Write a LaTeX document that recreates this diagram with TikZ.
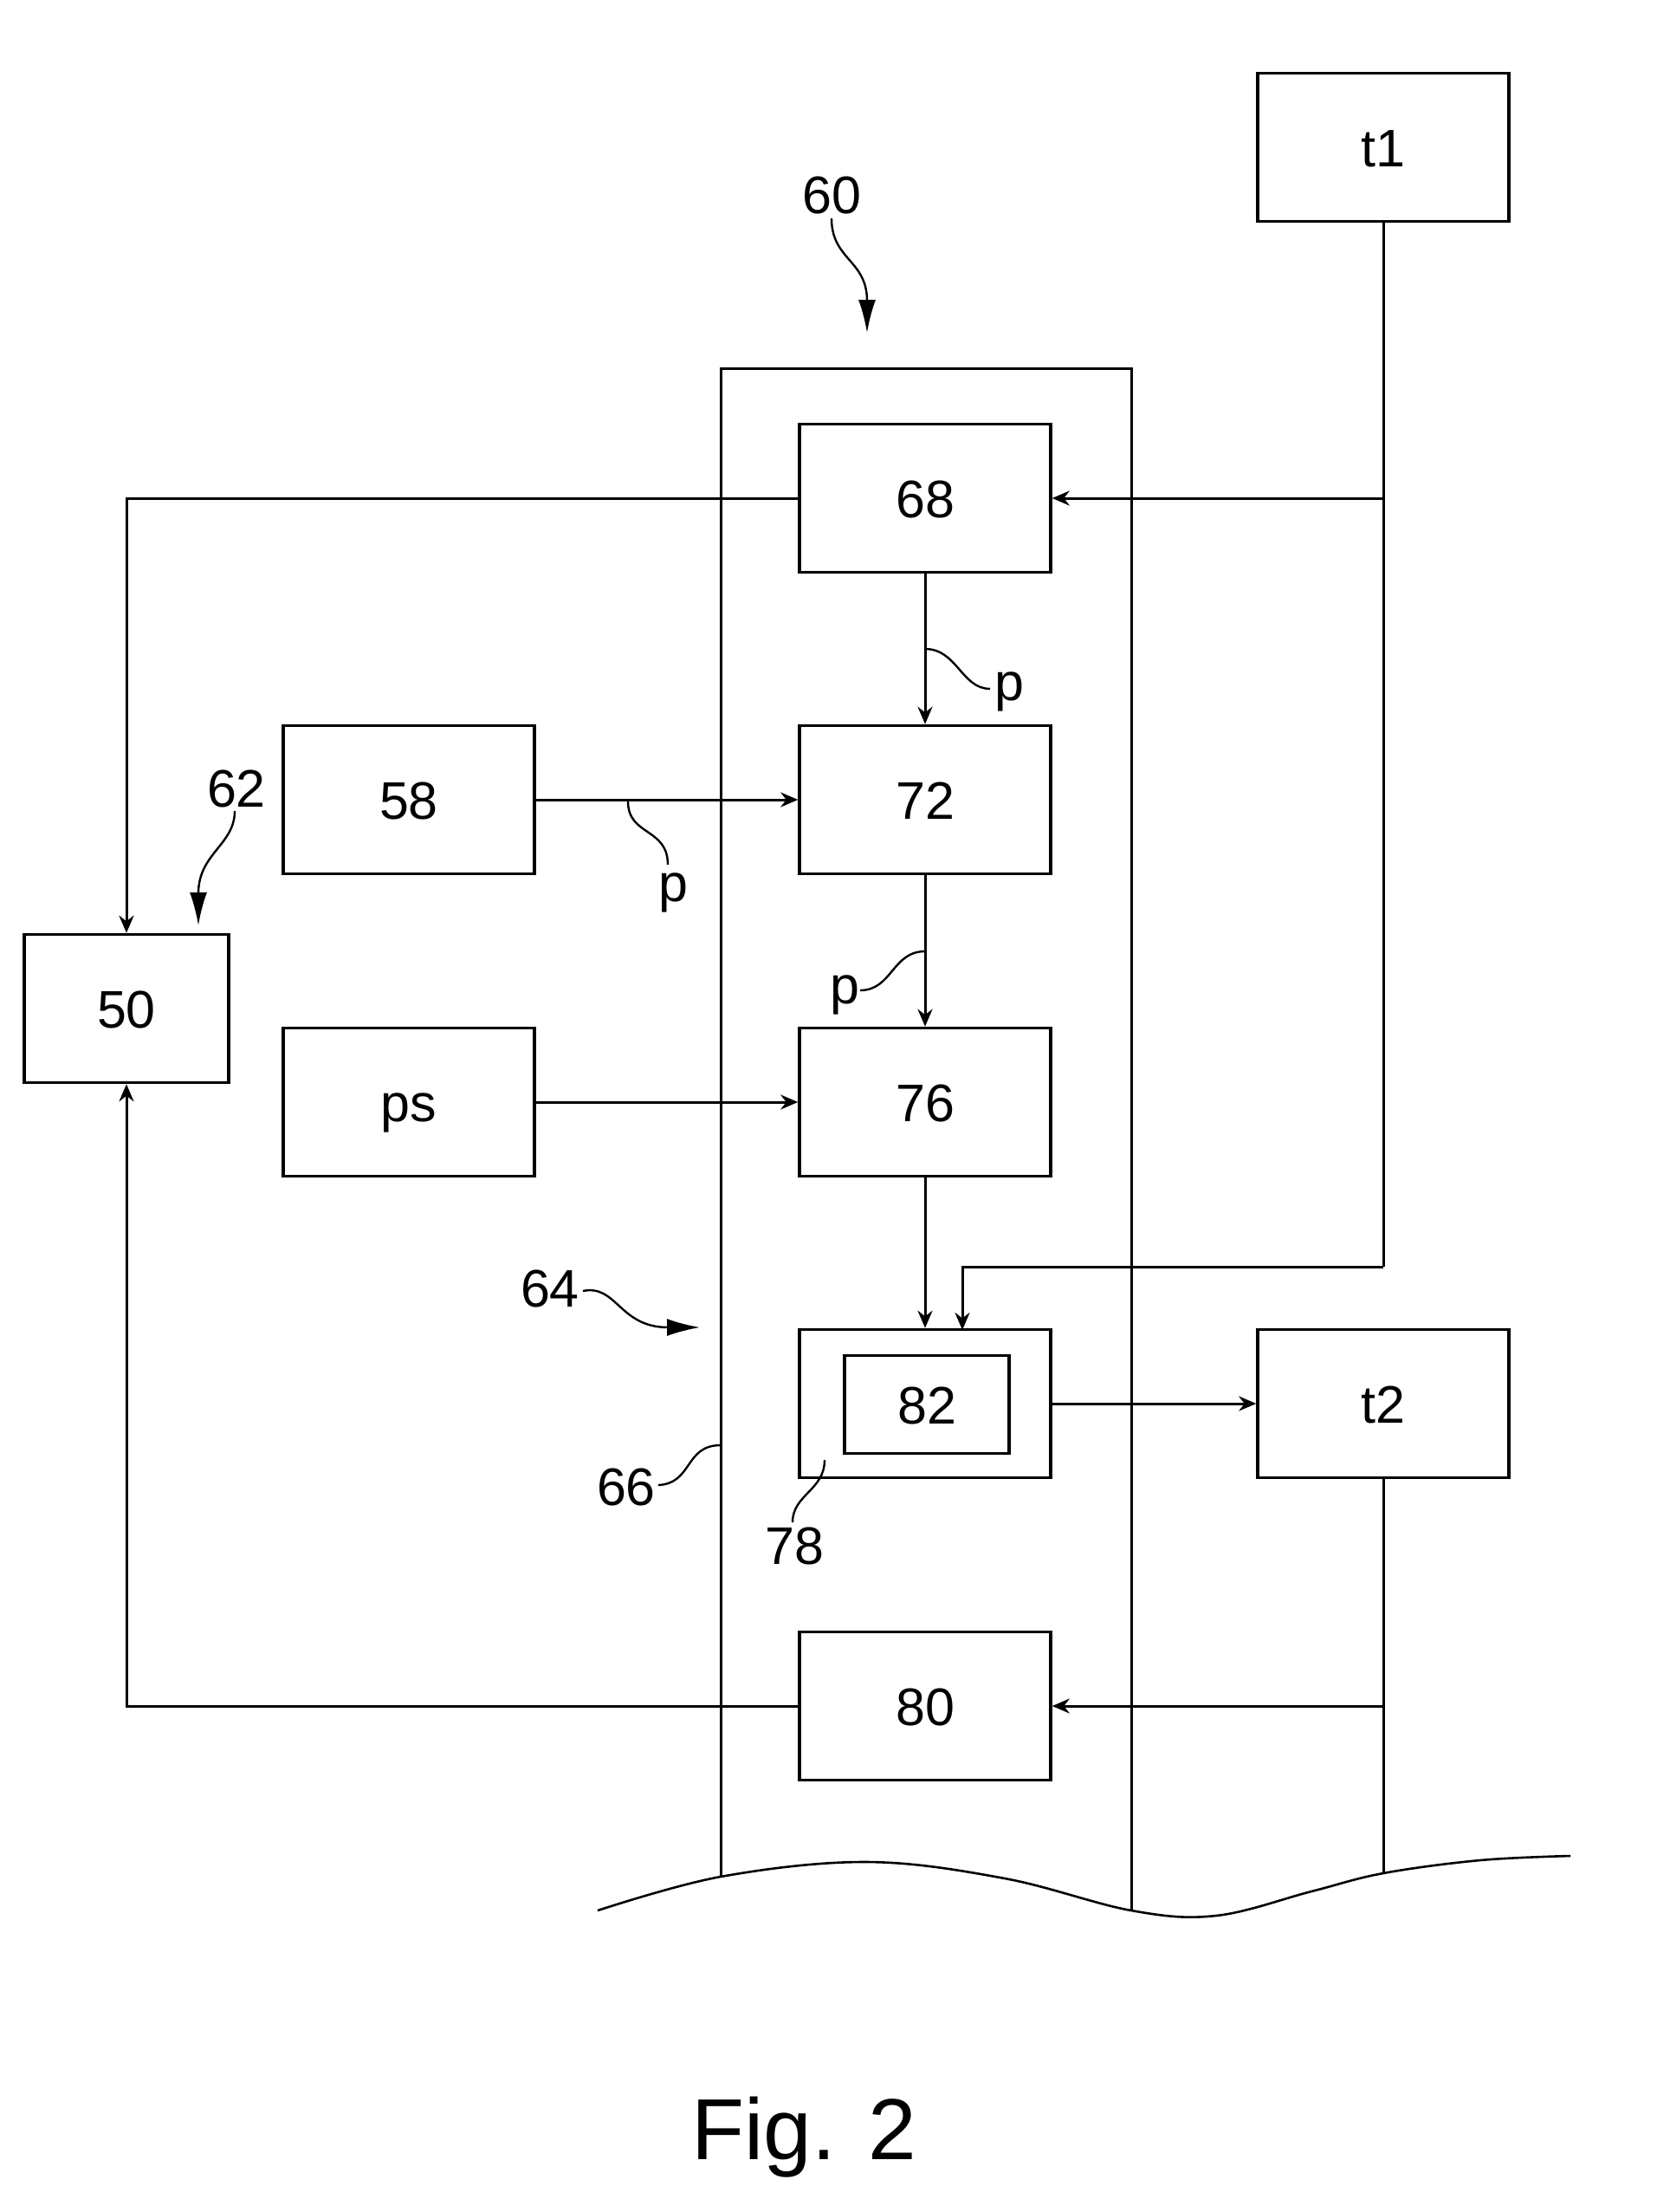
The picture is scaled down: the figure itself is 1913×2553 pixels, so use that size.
\documentclass[tikz,border=0pt]{standalone}
\usepackage{fontspec}
\setmainfont{Liberation Sans}
\usetikzlibrary{arrows.meta}
\begin{document}
\begin{tikzpicture}[x=1pt,y=-1pt,
  blk/.style={draw,line width=3.5pt,minimum width=290pt,minimum height=171pt,inner sep=0pt,text height=44pt,text depth=0pt,font=\fontsize{61}{61}\selectfont},
  conn/.style={line width=3pt,-{Stealth[length=20pt,width=17pt]}},
  wire/.style={line width=3pt},
  lead/.style={line width=2.4pt},
  bigarr/.style={line width=2.4pt,-{Latex[length=38pt,width=20pt]}},
  lbl/.style={font=\fontsize{61}{61}\selectfont,inner sep=0pt}]
\useasboundingbox (0,0) rectangle (1913,2553);

% column 66
\coordinate (cTL) at (832,425);
\coordinate (cTR) at (1306,425);
\coordinate (cBL) at (832,2166);
\coordinate (cBR) at (1306,2205);
\draw[line width=3pt] (cBL) -- (cTL) -- (cTR) -- (cBR);

% boxes
\node[blk] (t1) at (1597,170) {t1};
\node[blk] (n68) at (1068,575) {68};
\node[blk] (n72) at (1068,923) {72};
\node[blk] (n76) at (1068,1272) {76};
\node[blk] (n78) at (1068,1620) {};
\node[blk,minimum width=190pt,minimum height=113pt] (n82) at (1070,1621) {82};
\node[blk] (n80) at (1068,1969) {80};
\node[blk] (t2) at (1597,1620) {t2};
\node[blk] (n58) at (472,923) {58};
\node[blk] (ps) at (472,1272) {ps};
\node[blk,minimum width=236pt] (n50) at (146,1164) {50};

% junction coordinates
\coordinate (j68) at (1597,575);
\coordinate (j78) at (1597,1462);
\coordinate (j80) at (1597,1969);
\coordinate (t2end) at (1597,2162);
\coordinate (in78b) at (1111,1535);

% connectors
\draw[wire] (t1.south) -- (j78);
\draw[conn] (j68) -- (n68.east);
\draw[conn] (j78) -| (in78b);
\draw[conn] (n68.west) -| (n50.north);
\draw[conn] (n68.south) -- (n72.north);
\draw[conn] (n58.east) -- (n72.west);
\draw[conn] (n72.south) -- (n76.north);
\draw[conn] (ps.east) -- (n76.west);
\draw[conn] (n76.south) -- (n78.north);
\draw[conn] (n78.east) -- (t2.west);
\draw[wire] (t2.south) -- (t2end);
\draw[conn] (j80) -- (n80.east);
\draw[conn] (n80.west) -| (n50.south);

% wavy break line
\draw[line width=2.6pt] plot[smooth,tension=0.6] coordinates {(690,2205) (832,2166) (1001,2149) (1160,2168) (1306,2205) (1404,2211) (1514,2183) (1597,2162) (1709,2147) (1813,2142)};

% p labels with leaders
\node[lbl,anchor=base west] (p1) at (1148,808) {p};
\draw[lead] (1068,749) .. controls (1105,749) and (1110,795) .. (1143,795);
\node[lbl,anchor=base west] (p2) at (760,1040) {p};
\draw[lead] (725,925) .. controls (725,965) and (771,955) .. (771,998);
\node[lbl,anchor=base west] (p3) at (958,1158) {p};
\draw[lead] (1068,1098) .. controls (1030,1098) and (1030,1143) .. (993,1143);

% reference numerals
\node[lbl] (r60) at (960,226) {60};
\draw[bigarr] (960,252) .. controls (960,300) and (1001,300) .. (1001,384);
\node[lbl] (r62) at (273,910) {62};
\draw[bigarr] (271,936) .. controls (271,975) and (229,985) .. (229,1068);
\node[lbl] (r64) at (635,1487) {64};
\draw[bigarr] (673,1490) .. controls (712,1482) and (715,1532) .. (808,1532);
\node[lbl] (r66) at (723,1716) {66};
\draw[lead] (760,1714) .. controls (800,1712) and (790,1668) .. (832,1668);
\node[lbl] (r78) at (917,1784) {78};
\draw[lead] (915,1757) .. controls (915,1725) and (952,1720) .. (952,1685);

% caption
\node[font=\fontsize{100}{100}\selectfont,inner sep=0pt,anchor=base] (fig) at (928,2492) {Fig. 2};
\end{tikzpicture}
\end{document}
